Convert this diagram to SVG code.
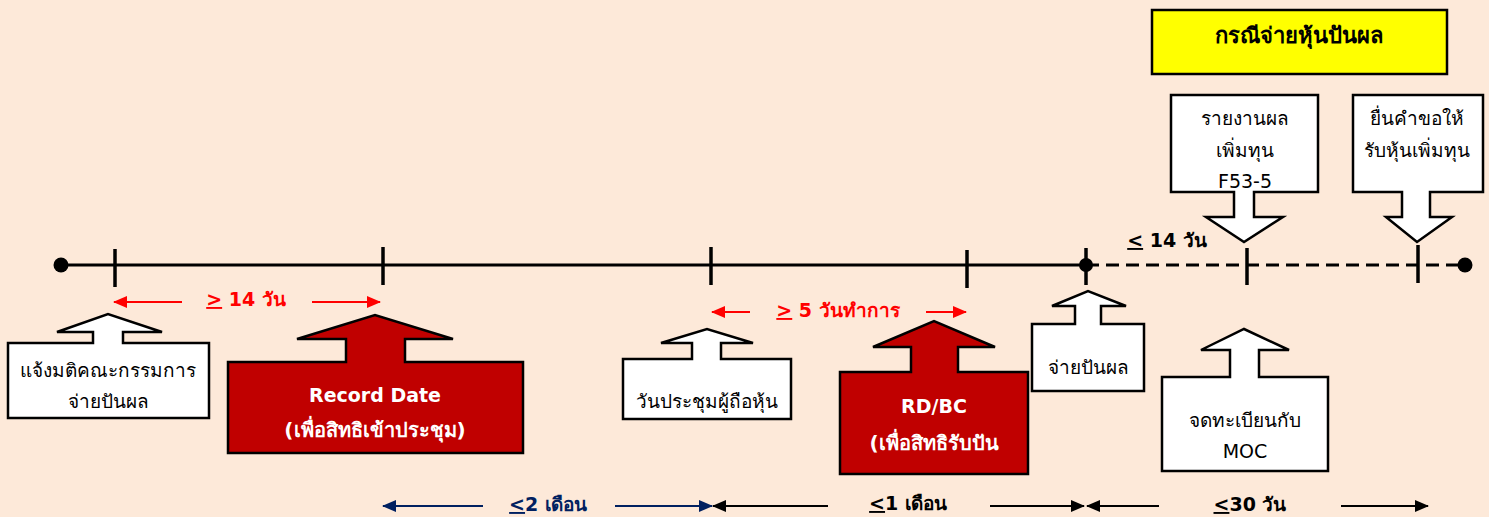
<svg xmlns="http://www.w3.org/2000/svg" width="1489" height="517" viewBox="0 0 1489 517">
<defs>
<style>
.t{font-family:"DejaVu Sans","Noto Sans",sans-serif;font-size:19px;fill:#000;text-anchor:middle}
.tb{font-family:"DejaVu Sans","Noto Sans",sans-serif;font-size:19px;font-weight:bold;text-anchor:middle}
.w{fill:#fff}
.r{fill:#ff0000}
.n{fill:#002060}
.k{fill:#000}
.co{fill:#fff;stroke:#000;stroke-width:2.5;stroke-linejoin:miter}
.cr{fill:#c00000;stroke:#000;stroke-width:2.5}
.tl{stroke:#000;stroke-width:3;fill:none}
.tk{stroke:#000;stroke-width:3.5}
.ar{stroke:#ff0000;stroke-width:2;fill:none}
.an{stroke:#002060;stroke-width:2;fill:none}
.ak{stroke:#000;stroke-width:2;fill:none}
</style>
<marker id="mr" viewBox="0 0 14 12" refX="13" refY="6" markerWidth="14" markerHeight="12" markerUnits="userSpaceOnUse" orient="auto"><path d="M0,0 L14,6 L0,12 Z" fill="#ff0000"/></marker>
<marker id="mn" viewBox="0 0 14 12" refX="13" refY="6" markerWidth="14" markerHeight="12" markerUnits="userSpaceOnUse" orient="auto"><path d="M0,0 L14,6 L0,12 Z" fill="#002060"/></marker>
<marker id="mk" viewBox="0 0 14 12" refX="13" refY="6" markerWidth="14" markerHeight="12" markerUnits="userSpaceOnUse" orient="auto"><path d="M0,0 L14,6 L0,12 Z" fill="#000"/></marker>
</defs>
<rect width="1489" height="517" fill="#fde9d9"/>

<g id="connectors">
<line class="tl" x1="61" y1="265" x2="1086" y2="265"/>
<line class="tl" x1="1086" y1="265" x2="1465" y2="265" stroke-dasharray="13 7"/>
<circle cx="61" cy="265" r="7.5" fill="#000"/>
<circle cx="1086" cy="265" r="7" fill="#000"/>
<circle cx="1465" cy="265" r="7.5" fill="#000"/>
<line class="tk" x1="115" y1="249" x2="115" y2="287"/>
<line class="tk" x1="383" y1="247" x2="383" y2="285"/>
<line class="tk" x1="711" y1="247" x2="711" y2="285"/>
<line class="tk" x1="967" y1="250" x2="967" y2="288"/>
<line class="tk" x1="1086" y1="248" x2="1086" y2="285"/>
<line class="tk" x1="1247" y1="248" x2="1247" y2="285"/>
<line class="tk" x1="1418" y1="245" x2="1418" y2="283"/>

<line class="ar" x1="182" y1="302" x2="114" y2="302" marker-end="url(#mr)"/>
<line class="ar" x1="312" y1="302" x2="380" y2="302" marker-end="url(#mr)"/>
<line class="ar" x1="750" y1="312" x2="712" y2="312" marker-end="url(#mr)"/>
<line class="ar" x1="926" y1="312" x2="966" y2="312" marker-end="url(#mr)"/>

<line class="an" x1="483" y1="506" x2="383" y2="506" marker-end="url(#mn)"/>
<line class="an" x1="615" y1="506" x2="712" y2="506" marker-end="url(#mn)"/>
<line class="ak" x1="828" y1="506" x2="713" y2="506" marker-end="url(#mk)"/>
<line class="ak" x1="990" y1="506" x2="1084" y2="506" marker-end="url(#mk)"/>
<line class="ak" x1="1159" y1="506" x2="1087" y2="506" marker-end="url(#mk)"/>
<line class="ak" x1="1341" y1="506" x2="1428" y2="506" marker-end="url(#mk)"/>
</g>

<g id="label-ge14">
<text class="tb r" x="246" y="306"><tspan text-decoration="underline">&gt;</tspan> 14 วัน</text>
</g>
<g id="label-ge5">
<text class="tb r" x="838" y="317"><tspan text-decoration="underline">&gt;</tspan> 5 วันทำการ</text>
</g>
<g id="label-le14">
<text class="tb k" x="1167" y="247"><tspan text-decoration="underline">&lt;</tspan> 14 วัน</text>
</g>
<g id="label-le2m">
<text class="tb n" x="548" y="511"><tspan text-decoration="underline">&lt;</tspan>2 เดือน</text>
</g>
<g id="label-le1m">
<text class="tb k" x="908" y="510"><tspan text-decoration="underline">&lt;</tspan>1 เดือน</text>
</g>
<g id="label-le30">
<text class="tb k" x="1250" y="511"><tspan text-decoration="underline">&lt;</tspan>30 วัน</text>
</g>

<g id="title">
<rect x="1152" y="10" width="295" height="64" fill="#ffff00" stroke="#000" stroke-width="2.5"/>
<text class="tb k" x="1299" y="43" style="font-size:22px">กรณีจ่ายหุ้นปันผล</text>
</g>

<g id="node-notice">
<path class="co" d="M8,343 L93,343 L93,332 L57,332 L108,314 L162,332 L123,332 L123,343 L209,343 L209,418 L8,418 Z"/>
<text class="t" x="108" y="377">แจ้งมติคณะกรรมการ</text>
<text class="t" x="108" y="408">จ่ายปันผล</text>
</g>

<g id="node-record">
<path class="cr" d="M228,362 L346,362 L346,339 L297,339 L375,315 L453,339 L405,339 L405,362 L523,362 L523,453 L228,453 Z"/>
<text class="tb w" x="375" y="402">Record Date</text>
<text class="tb w" x="375" y="437" style="font-size:20px">(เพื่อสิทธิเข้าประชุม)</text>
</g>

<g id="node-meeting">
<path class="co" d="M623,359 L692,359 L692,343 L661,343 L707,329 L753,343 L721,343 L721,359 L791,359 L791,419 L623,419 Z"/>
<text class="t" x="707" y="408">วันประชุมผู้ถือหุ้น</text>
</g>

<g id="node-rdbc">
<path class="cr" d="M840,372 L911,372 L911,347 L873,347 L934,321 L995,347 L958,347 L958,372 L1028,372 L1028,474 L840,474 Z"/>
<text class="tb w" x="934" y="413">RD/BC</text>
<text class="tb w" x="934" y="450" style="font-size:20px">(เพื่อสิทธิรับปัน</text>
</g>

<g id="node-pay">
<path class="co" d="M1032,324 L1075,324 L1075,306 L1052,306 L1088,291 L1126,306 L1101,306 L1101,324 L1144,324 L1144,391 L1032,391 Z"/>
<text class="t" x="1088" y="374">จ่ายปันผล</text>
</g>

<g id="node-moc">
<path class="co" d="M1162,377 L1230,377 L1230,350 L1201,350 L1244,329 L1289,350 L1259,350 L1259,377 L1328,377 L1328,471 L1162,471 Z"/>
<text class="t" x="1245" y="427">จดทะเบียนกับ</text>
<text class="t" x="1245" y="458">MOC</text>
</g>

<g id="node-report">
<path class="co" d="M1171,95 L1318,95 L1318,192 L1254,192 L1254,217 L1283,217 L1244,242 L1206,217 L1234,217 L1234,192 L1171,192 Z"/>
<text class="t" x="1245" y="125">รายงานผล</text>
<text class="t" x="1245" y="157">เพิ่มทุน</text>
<text class="t" x="1245" y="188">F53-5</text>
</g>

<g id="node-request">
<path class="co" d="M1353,95 L1483,95 L1483,192 L1430,192 L1430,217 L1452,217 L1417,242 L1386,217 L1402,217 L1402,192 L1353,192 Z"/>
<text class="t" x="1417" y="125">ยื่นคำขอให้</text>
<text class="t" x="1417" y="157">รับหุ้นเพิ่มทุน</text>
</g>
</svg>
